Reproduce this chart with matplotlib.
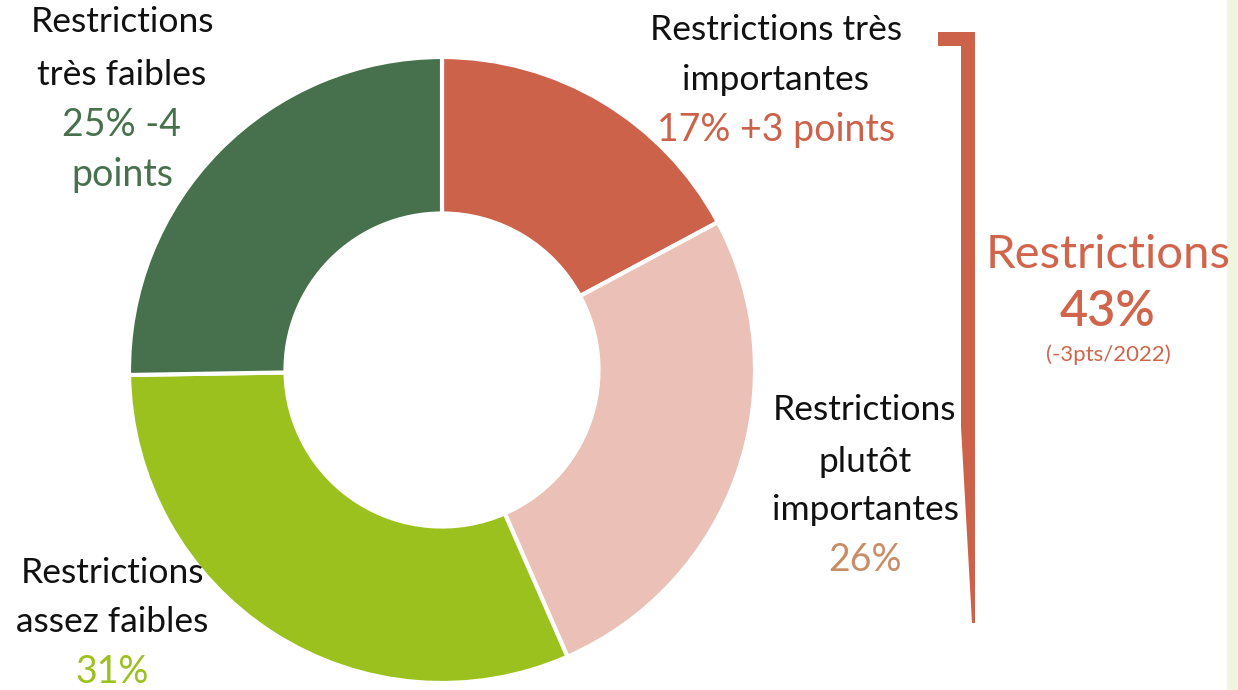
import matplotlib.pyplot as plt
from matplotlib.patches import Polygon, Rectangle

# data
labels = ["Restrictions très importantes", "Restrictions plutôt importantes",
          "Restrictions assez faibles", "Restrictions très faibles"]
shares = [17, 26, 31, 25]
colors = ["#CD624A", "#EBC0B6", "#9BC11F", "#46714C"]
total_label = "Restrictions"
total_value = "43%"
total_note = "(-3pts/2022)"

plt.rcParams['font.family'] = ['Lato', 'DejaVu Sans']

W, H = 1238, 690
fig = plt.figure(figsize=(W / 100, H / 100), dpi=100)
ax = fig.add_axes([0, 0, 1, 1])

cx, cy, r = 442, H - 370, 313
ax.pie(shares, colors=colors, startangle=90, counterclock=False,
       center=(cx, cy), radius=r,
       wedgeprops=dict(width=r * 0.5, edgecolor='white', linewidth=3))

ax.set_xlim(0, W)
ax.set_ylim(0, H)
ax.set_aspect('equal')
ax.axis('off')

def y(p):
    return H - p

black = '#111111'
def lines(x, ys, texts, cols):
    for yy, t, c in zip(ys, texts, cols):
        ax.text(x, y(yy), t, ha='center', va='center',
                fontsize=25.5 if c == black else 27, color=c)

lines(122, [22, 75, 125, 175],
      ["Restrictions", "très faibles", "25% -4", "points"],
      [black, black, colors[3], colors[3]])
lines(776, [30, 80, 130],
      ["Restrictions très", "importantes", "17% +3 points"],
      [black, black, colors[0]])
lines(865, [410, 462, 510, 560],
      ["Restrictions", "plutôt", "importantes", "26%"],
      [black, black, black, "#C98D66"])
lines(112, [573, 622, 672],
      ["Restrictions", "assez faibles", "31%"],
      [black, black, colors[2]])

# bracket
br = Polygon([(938, y(32)), (975, y(32)), (975, y(623)), (972, y(623)),
              (961, y(427)), (961, y(46)), (938, y(46))],
             closed=True, facecolor=colors[0], edgecolor='none')
ax.add_patch(br)

ax.text(1108, y(255), total_label, ha='center', va='center', fontsize=34, color="#D0654B")
ax.text(1108, y(312), total_value, ha='center', va='center', fontsize=35,
        color="#D0654B", fontweight='semibold')
ax.text(1108, y(355), total_note, ha='center', va='center', fontsize=16, color="#D0654B")

# light strip at right edge
ax.add_patch(Rectangle((1227, 0), W - 1227, H, facecolor='#F0F5E0', edgecolor='none'))

fig.savefig("out.png", dpi=100)
